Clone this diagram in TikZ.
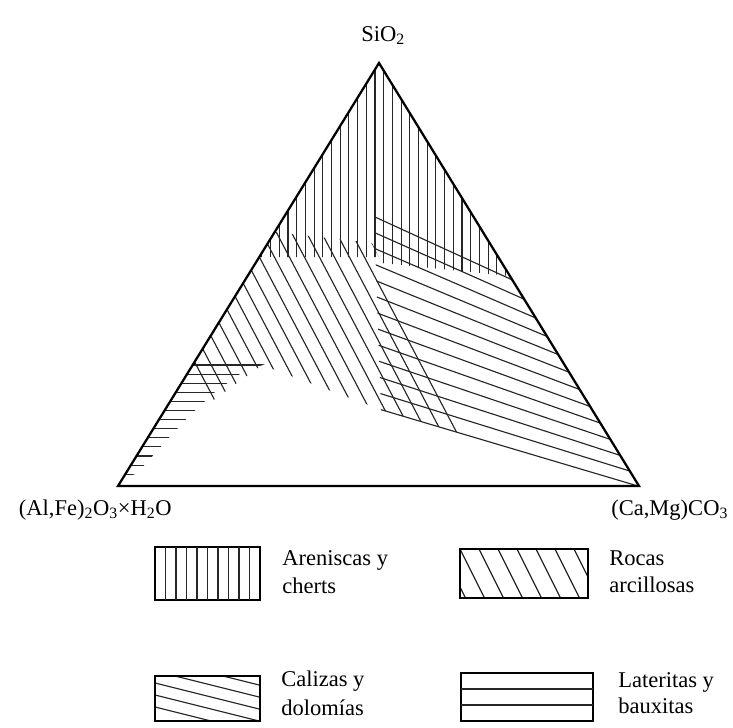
\documentclass[tikz,border=0pt]{standalone}
\usepackage{fontspec}
\setmainfont{Liberation Serif}
\usetikzlibrary{calc}

\begin{document}
\begin{tikzpicture}[x=0.75pt,y=-0.75pt,
  side/.style={line width=1.7pt, line join=miter},
  hatch/.style={line width=0.85pt, black!85},
  boxframe/.style={line width=1pt},
  lbl/.style={inner sep=0pt, anchor=base west, font=\fontsize{16.9}{20}\selectfont}]
\useasboundingbox (0,0) rectangle (733,728);

% corners of the ternary diagram
\coordinate (A) at (118,486);
\coordinate (B) at (639,486);
\coordinate (C) at (379,63);

% Areniscas y cherts: vertical hatching near SiO2
\begin{scope}
  \clip (C) -- (510,276) -- (381,263) -- (377,257) -- (259,257) -- cycle;
  \foreach \i in {-14,...,16}
    \draw[hatch] ({375+8.7*\i},60) -- ++(0,230);
\end{scope}

% Calizas y dolomias: fan of shallow lines towards (Ca,Mg)CO3
\coordinate (F) at (1560,760);
\begin{scope}
  \clip (A) -- (B) -- (C) -- cycle;
  \clip (374,215.5) -- (600,319) -- (700,507.5) -- (381,411.5) -- cycle;
  \foreach \i in {0,...,12}
    \draw[hatch] ($({375+7*\i/12},{217+16.08*\i})!-0.02!(F)$) -- (F);
\end{scope}

% Rocas arcillosas: steep hatching across the middle
\begin{scope}
  \clip (274.7,232) -- (372,243) -- (463,434) -- (382,410) -- (262,365)
        -- (197,412) -- (179.7,386) -- cycle;
  \foreach \k in {-7,...,16}
    \draw[hatch] ({372-15*\k+(150-243)/1.9},150) -- ({372-15*\k+(450-243)/1.9},450);
\end{scope}

% Lateritas y bauxitas: horizontal hatching near (Al,Fe)2O3
\begin{scope}
  \clip (A) -- (140,470) -- (165,442) -- (190,415) -- (215,392) -- (240,374)
        -- (265,364) -- (193.9,363) -- cycle;
  \foreach \k in {0,...,12}
    \draw[hatch] (100,{365+9.1*\k}) -- (300,{365+9.1*\k});
\end{scope}

% triangle
\draw[side] (A) -- (B) -- (C) -- cycle;

% corner labels
\node[lbl] (tSi) at (361,41) {SiO\textsubscript{2}};
\node[lbl, anchor=base east] (tAl) at (172,515) {(Al,Fe)\textsubscript{2}O\textsubscript{3}×H\textsubscript{2}O};
\node[lbl] (tCa) at (611,515) {(Ca,Mg)CO\textsubscript{3}};

% legend: Areniscas y cherts
\draw[boxframe] (155,547) rectangle (260,600);
\foreach \k in {1,...,9}
  \draw[hatch] ({155+10.5*\k},547) -- ({155+10.5*\k},600);
\node[lbl] (l1a) at (282,565) {Areniscas y};
\node[lbl] (l1b) at (282,593) {cherts};

% legend: Rocas arcillosas
\begin{scope}
  \clip (460,549) rectangle (588,598);
  \foreach \k in {-2,...,7}
    \draw[hatch] ({460+19*\k-5},539) -- ({460+19*\k+29.5},608);
\end{scope}
\draw[boxframe] (460,549) rectangle (588,598);
\node[lbl] (l2a) at (609,565) {Rocas};
\node[lbl] (l2b) at (609,592) {arcillosas};

% legend: Calizas y dolomias
\begin{scope}
  \clip (155,676) rectangle (260,721);
  \foreach \y in {707,695,683,671,659}
    \draw[hatch] (150,{\y-1.25}) -- (265,{\y+27.5});
\end{scope}
\draw[boxframe] (155,676) rectangle (260,721);
\node[lbl] (l3a) at (281,686) {Calizas y};
\node[lbl] (l3b) at (281,715) {dolomías};

% legend: Lateritas y bauxitas
\draw[boxframe] (461,673) rectangle (593,721);
\draw[hatch] (461,689) -- (593,689);
\draw[hatch] (461,705) -- (593,705);
\node[lbl] (l4a) at (618,687) {Lateritas y};
\node[lbl] (l4b) at (618,713) {bauxitas};
\end{tikzpicture}
\end{document}
